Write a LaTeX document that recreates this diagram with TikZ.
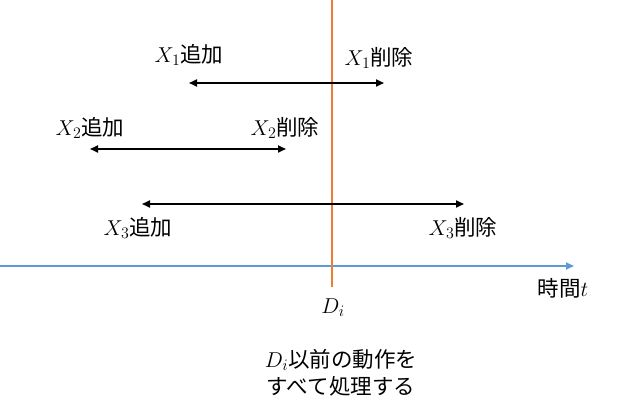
\RequirePackage{fix-cm}
\documentclass[tikz,border=0pt]{standalone}
\usepackage{fontspec}
\newfontfamily\cjk{Noto Sans CJK JP}
\usetikzlibrary{arrows.meta}
\DeclareMathSizes{21.5}{21.5}{16}{12}
\definecolor{offorange}{RGB}{237,125,49}
\definecolor{offblue}{RGB}{91,155,213}
\begin{document}
\begin{tikzpicture}[x=1pt,y=-1pt,
  lbl/.style={font=\fontsize{21.5}{27}\selectfont\cjk, inner sep=0pt},
  span/.style={{Triangle[length=8pt,width=7pt]}-{Triangle[length=8pt,width=7pt]}, line width=1.8pt, black},
]
\useasboundingbox (0,0) rectangle (621,417);
% time axis
\coordinate (a0) at (0,266);
\coordinate (a1) at (574,266);
\draw[offblue, line width=1.8pt, -{Triangle[length=8pt,width=7pt]}] (a0) -- (a1);
% D_i line
\coordinate (d0) at (332,0);
\coordinate (d1) at (332,287);
\draw[offorange, line width=1.8pt] (d0) -- (d1);
% spans
\coordinate (x1s) at (189,83);
\coordinate (x1e) at (384,83);
\coordinate (x2s) at (90,149);
\coordinate (x2e) at (286,149);
\coordinate (x3s) at (142,204);
\coordinate (x3e) at (464,204);
\draw[span] (x1s) -- (x1e);
\draw[span] (x2s) -- (x2e);
\draw[span] (x3s) -- (x3e);
% labels
\node[lbl] (l1a) at (189,55) {$X_1$追加};
\node[lbl] (l1d) at (379,58) {$X_1$削除};
\node[lbl] (l2a) at (90,128) {$X_2$追加};
\node[lbl] (l2d) at (285,128) {$X_2$削除};
\node[lbl] (l3a) at (138,228) {$X_3$追加};
\node[lbl] (l3d) at (463,228) {$X_3$削除};
\node[lbl] (t) at (563,288) {時間$t$};
\node[lbl] (di) at (333,308) {$D_i$};
\node[lbl, align=center] (note) at (341,373) {$D_i$以前の動作を\\すべて処理する};
\end{tikzpicture}
\end{document}
